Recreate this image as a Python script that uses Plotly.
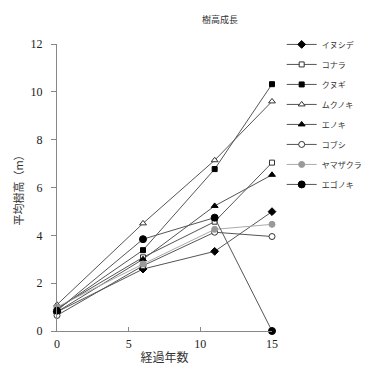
import plotly.graph_objects as go

years = [0, 6, 11, 15]
species = ["イヌシデ", "コナラ", "クヌギ", "ムクノキ", "エノキ", "コブシ", "ヤマザクラ", "エゴノキ"]
inushide = [0.80, 2.59, 3.33, 4.99]
konara = [0.95, 3.08, 4.57, 7.04]
kunugi = [0.90, 3.38, 6.77, 10.32]
mukunoki = [1.10, 4.50, 7.14, 9.60]
enoki = [0.80, 3.00, 5.23, 6.53]
kobushi = [0.65, 2.73, 4.13, 3.95]
yamazakura = [1.00, 2.80, 4.25, 4.46]
egonoki = [0.85, 3.84, 4.74, 0.00]

values = [inushide, konara, kunugi, mukunoki, enoki, kobushi, yamazakura, egonoki]
symbols = ["diamond", "square", "square", "triangle-up", "triangle-up",
           "circle", "circle", "circle"]
fills = ["#000000", "#ffffff", "#000000", "#ffffff", "#000000", "#ffffff", "#999999", "#000000"]
edges = ["#000000", "#333333", "#000000", "#333333", "#000000", "#333333", "#999999", "#000000"]
lcolors = ["#555555", "#555555", "#555555", "#555555", "#555555", "#555555", "#aaaaaa", "#555555"]
msizes = [6, 5, 5, 6, 6, 6, 6, 7]

fig = go.Figure()
for i, name in enumerate(species):
    fig.add_trace(go.Scatter(
        x=years, y=values[i], name=name, mode="lines+markers",
        legendgroup=name,
        line=dict(color=lcolors[i], width=1),
        marker=dict(symbol=symbols[i], size=msizes[i], color=fills[i],
                    line=dict(color=edges[i], width=1)),
        cliponaxis=False,
    ))

fig.update_layout(
    width=362, height=380,
    margin=dict(l=49, r=98, t=36, b=57, autoexpand=False),
    paper_bgcolor="white", plot_bgcolor="white",
    title=dict(text="樹高成長", x=212/362, xanchor="center", y=1-12/380, yanchor="middle",
               font=dict(family="Noto Sans CJK JP", size=9, color="#333")),
    xaxis=dict(range=[0, 15], tickvals=[0, 5, 10, 15], showgrid=False, zeroline=False,
               showline=True, linecolor="#888", linewidth=1, ticks="inside", ticklen=4, tickcolor="#888",
               ticklabelstandoff=2,
               tickfont=dict(family="Liberation Serif", size=12, color="#222"),
               title=dict(text="経過年数", font=dict(family="Noto Sans CJK JP", size=12, color="#333"), standoff=3)),
    yaxis=dict(range=[0, 12], tickvals=[0, 2, 4, 6, 8, 10, 12], showgrid=False, zeroline=False,
               showline=True, linecolor="#888", linewidth=1, ticks="outside", ticklen=5, tickcolor="#888",
               ticklabelstandoff=6,
               tickfont=dict(family="Liberation Serif", size=12, color="#222"),
               title=dict(text="平均樹高（m）", font=dict(family="Noto Sans CJK JP", size=11, color="#333"), standoff=4)),
    legend=dict(x=1.045, xanchor="left", y=1.049, yanchor="top", bgcolor="rgba(0,0,0,0)",
                font=dict(family="Noto Sans CJK JP", size=8, color="#333"),
                tracegroupgap=1, itemwidth=30),
    showlegend=True,
)

fig.write_html("out.html")
